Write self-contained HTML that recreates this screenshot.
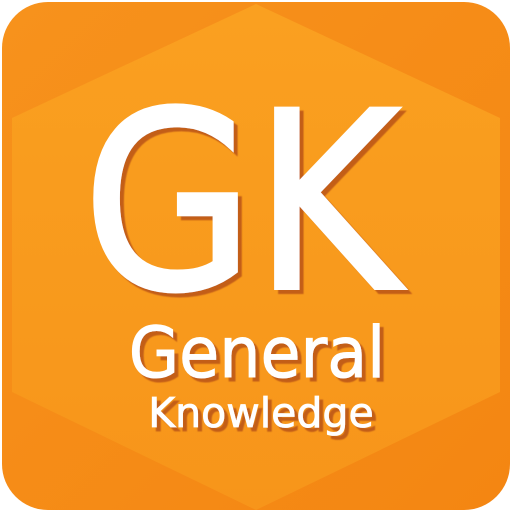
<!DOCTYPE html>
<html><head><meta charset="utf-8"><style>
html,body{margin:0;padding:0;background:#fff;}
#icon{position:relative;width:512px;height:512px;overflow:hidden;}
svg{position:absolute;left:0;top:0;}
</style></head><body>
<div id="icon">
<svg width="512" height="512" viewBox="0 0 512 512">
<defs>
<linearGradient id="bg" x1="0" y1="0" x2="1" y2="1">
<stop offset="0" stop-color="#F7921C"/><stop offset="1" stop-color="#F48612"/>
</linearGradient>
<linearGradient id="hx" x1="0" y1="0" x2="0" y2="1">
<stop offset="0" stop-color="#FAA020"/><stop offset="1" stop-color="#F7951A"/>
</linearGradient>
<clipPath id="rc"><rect x="2" y="2" width="508" height="508" rx="46"/></clipPath>
<filter id="sh" x="-10%" y="-10%" width="130%" height="130%">
<feDropShadow dx="4" dy="4" stdDeviation="0.6" flood-color="#c05a12" flood-opacity="0.95"/>
</filter>
</defs>
<rect x="2" y="2" width="508" height="508" rx="46" fill="url(#bg)"/>
<g clip-path="url(#rc)">
<polygon points="256,4 500,118 500,392 256,510 12,392 12,118" fill="url(#hx)"/>
</g>
<g filter="url(#sh)" fill="#fff" stroke="#fff" font-family="'DejaVu Sans','Liberation Sans',sans-serif">
<text x="241" y="288" font-size="246" stroke-width="4" text-anchor="middle" transform="translate(241 0) scale(0.9 1) translate(-241 0)">GK</text>
<text x="257" y="377" font-size="70" stroke-width="1" text-anchor="middle" transform="translate(257 0) scale(0.93 1) translate(-257 0)">General</text>
<text x="261" y="427" font-size="41" stroke-width="0.8" text-anchor="middle">Knowledge</text>
</g>
</svg>
</div>
</body></html>
